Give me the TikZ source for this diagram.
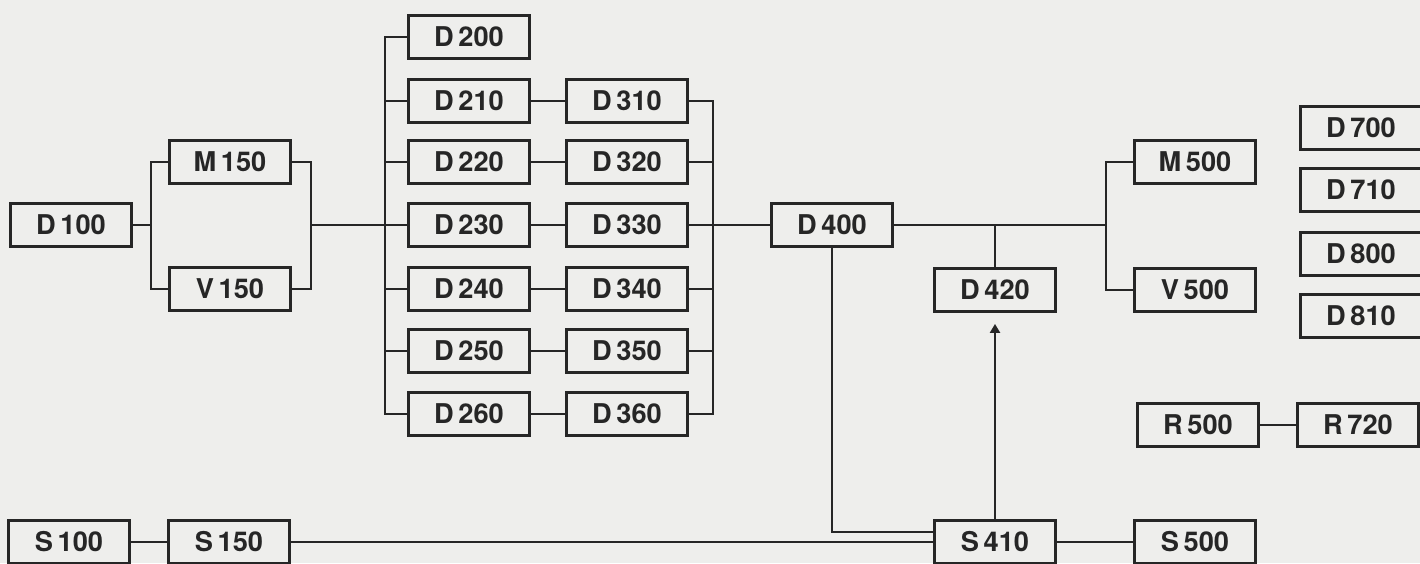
\documentclass[tikz,border=0pt]{standalone}
\usepackage{fontspec}
\setmainfont{TeX Gyre Heros}
\usetikzlibrary{arrows.meta}
\definecolor{paper}{RGB}{238,238,236}
\definecolor{ink}{RGB}{38,38,38}
\tikzset{
  blk/.style={draw=ink, line width=1.6pt, minimum width=24.2mm, minimum height=8.6mm,
    inner sep=0pt, text=ink, font=\fontsize{15.5}{15.5}\selectfont\bfseries},
  wire/.style={draw=ink, line width=1.6pt}
}

\begin{document}
\begin{tikzpicture}[x=0.2mm,y=-0.2mm,line join=miter]
  \fill[paper] (0,0) rectangle (1420,563);
  \clip (0,0) rectangle (1420,563);
  % left block
  \node[blk] (d100) at (71,225) {D\,100};
  \node[blk] (m150) at (230,162) {M\,150};
  \node[blk] (v150) at (230,289) {V\,150};
  \coordinate (jl) at (151,225);
  \coordinate (jm) at (311,225);
  % D200 column
  \node[blk] (d200) at (469,37) {D\,200};
  \node[blk] (d210) at (469,101) {D\,210};
  \node[blk] (d220) at (469,162) {D\,220};
  \node[blk] (d230) at (469,225) {D\,230};
  \node[blk] (d240) at (469,289) {D\,240};
  \node[blk] (d250) at (469,351) {D\,250};
  \node[blk] (d260) at (469,414) {D\,260};
  \coordinate (bl) at (385,225);
  % D300 column
  \node[blk] (d310) at (627,101) {D\,310};
  \node[blk] (d320) at (627,162) {D\,320};
  \node[blk] (d330) at (627,225) {D\,330};
  \node[blk] (d340) at (627,289) {D\,340};
  \node[blk] (d350) at (627,351) {D\,350};
  \node[blk] (d360) at (627,414) {D\,360};
  \coordinate (br) at (713,225);
  % middle
  \node[blk] (d400) at (832,225) {D\,400};
  \node[blk] (d420) at (995,290) {D\,420};
  \node[blk] (m500) at (1195,162) {M\,500};
  \node[blk] (v500) at (1195,290) {V\,500};
  \coordinate (jr) at (1106,225);
  % right edge
  \node[blk] (d700) at (1361,128) {D\,700};
  \node[blk] (d710) at (1361,190) {D\,710};
  \node[blk] (d800) at (1361,254) {D\,800};
  \node[blk] (d810) at (1361,316) {D\,810};
  \node[blk] (r500) at (1198,425) {R\,500};
  \node[blk] (r720) at (1358,425) {R\,720};
  % bottom row
  \node[blk] (s100) at (69,542) {S\,100};
  \node[blk] (s150) at (229,542) {S\,150};
  \node[blk] (s410) at (995,542) {S\,410};
  \node[blk] (s500) at (1195,542) {S\,500};

  \draw[wire] (d100.east) -- (jl);
  \draw[wire] (m150.west) -| (jl) |- (v150.west);
  \draw[wire] (m150.east) -| (jm) |- (v150.east);
  \draw[wire] (jm) -- (d230.west);
  \draw[wire] (d200.west) -| (bl) |- (d260.west);
  \draw[wire] (d210.west) -- (d210.west -| bl);
  \draw[wire] (d220.west) -- (d220.west -| bl);
  \draw[wire] (d240.west) -- (d240.west -| bl);
  \draw[wire] (d250.west) -- (d250.west -| bl);
  \draw[wire] (d210) -- (d310);
  \draw[wire] (d220) -- (d320);
  \draw[wire] (d230) -- (d330);
  \draw[wire] (d240) -- (d340);
  \draw[wire] (d250) -- (d350);
  \draw[wire] (d260) -- (d360);
  \draw[wire] (d310.east) -| (br) |- (d360.east);
  \draw[wire] (d320.east) -- (d320.east -| br);
  \draw[wire] (d340.east) -- (d340.east -| br);
  \draw[wire] (d350.east) -- (d350.east -| br);
  \draw[wire] (d330.east) -- (d400.west);
  \draw[wire] (d400.east) -- (jr);
  \draw[wire] (m500.west) -| (jr) |- (v500.west);
  \draw[wire] (d420.north) -- (d420.north |- d400.east);
  \draw[wire] (d400.south) |- ([yshift=2mm]s410.west);
  \draw[wire] (s100) -- (s150);
  \draw[wire] (s150) -- (s410);
  \draw[wire] (s410) -- (s500);
  \draw[wire] (r500) -- (r720);
  \draw[wire, -{Triangle[length=1.8mm,width=2mm]}, shorten >=2.2mm] (s410.north) -- (d420.south);
\end{tikzpicture}
\end{document}
